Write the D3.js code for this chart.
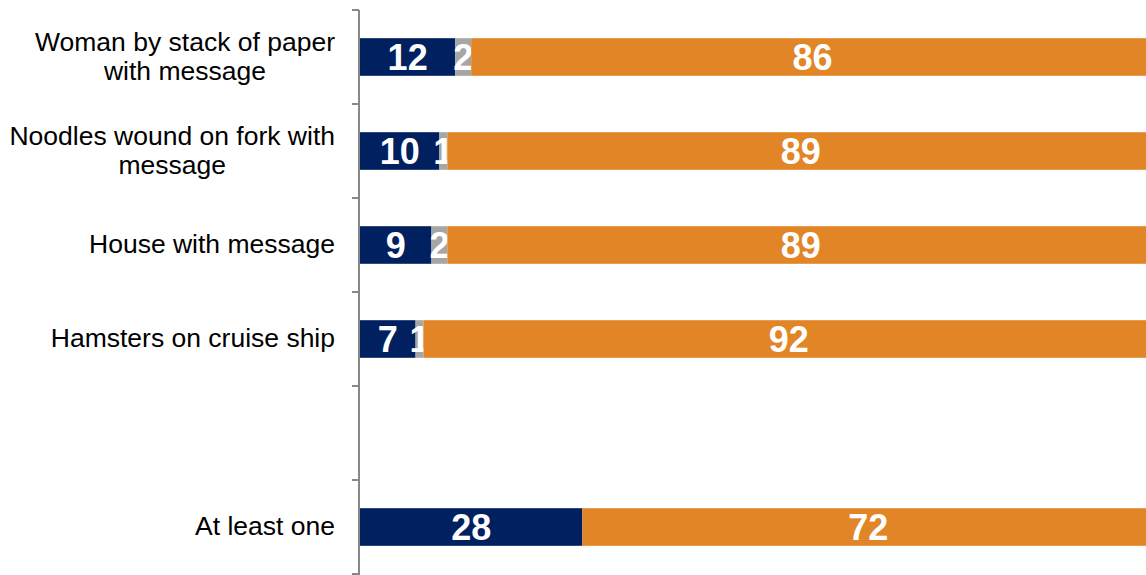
<!DOCTYPE html>
<html>
<head>
<meta charset="utf-8">
<script src="https://cdn.jsdelivr.net/npm/d3@7"></script>
<style>
  html, body { margin: 0; padding: 0; background: #ffffff; }
  svg { display: block; }
</style>
</head>
<body>
<svg id="chart" width="1146" height="575"></svg>
<script>
// Rows of the chart (an empty row separates the summary bar)
const categories = [
  "Woman by stack of paper\nwith message",
  "Noodles wound on fork with\nmessage",
  "House with message",
  "Hamsters on cruise ship",
  " ",
  "At least one"
];
// Percent shares per row (null = blank spacer row)
const navyValues   = [12, 10, 9, 7, null, 28];
const grayValues   = [2, 1, 2, 1, null, 0];
const orangeValues = [86, 89, 89, 92, null, 72];

const seriesKeys = ["navy", "gray", "orange"];
const colors = { navy: "#002060", gray: "#A6A6A6", orange: "#E18526" };

const rows = categories.map((c, i) => ({
  cat: c,
  navy: navyValues[i],
  gray: grayValues[i],
  orange: orangeValues[i]
}));

const svg = d3.select("#chart");

// The plot runs slightly past the right edge of the canvas
const x = d3.scaleLinear().domain([0, 100]).range([360, 1154]);
const y = d3.scaleBand()
  .domain(categories)
  .range([10, 574])
  .paddingInner(0.6)
  .paddingOuter(0.3);

const stack = d3.stack().keys(seriesKeys).value((d, k) => d[k] || 0);
const stacked = stack(rows.filter(r => r.navy !== null));

const layers = svg.append("g")
  .selectAll("g")
  .data(stacked)
  .join("g")
  .attr("fill", d => colors[d.key]);

layers.selectAll("rect")
  .data(d => d.map(p => ({ p, key: d.key })))
  .join("rect")
  .attr("x", d => x(d.p[0]))
  .attr("width", d => x(d.p[1]) - x(d.p[0]))
  .attr("y", d => y(d.p.data.cat))
  .attr("height", y.bandwidth());

// Value labels centred in each segment
layers.selectAll("text")
  .data(d => d.map(p => ({ p, key: d.key })).filter(d => d.p.data[d.key] > 0))
  .join("text")
  .attr("x", d => (x(d.p[0]) + x(d.p[1])) / 2)
  .attr("y", d => y(d.p.data.cat) + y.bandwidth() / 2)
  .attr("dy", "0.36em")
  .attr("text-anchor", "middle")
  .attr("fill", "#ffffff")
  .attr("font-family", "Liberation Sans, Arial, sans-serif")
  .attr("font-weight", "bold")
  .attr("font-size", 36)
  .text(d => d.p.data[d.key]);

// Vertical category axis with ticks between rows
const axisG = svg.append("g");
const [r0] = y.range();
axisG.append("line")
  .attr("x1", 359).attr("x2", 359)
  .attr("y1", r0).attr("y2", 575)
  .attr("stroke", "#888888").attr("stroke-width", 2);
axisG.selectAll("line.tick")
  .data(d3.range(categories.length + 1).map(i => r0 + i * y.step()))
  .join("line")
  .attr("class", "tick")
  .attr("x1", 352).attr("x2", 359)
  .attr("y1", d => d).attr("y2", d => d)
  .attr("stroke", "#888888").attr("stroke-width", 2);

// Category labels: block right-aligned to the axis, lines centred within the block
const lineH = 29;
const labelRight = 335;
svg.append("g")
  .selectAll("text")
  .data(categories)
  .join("text")
  .attr("text-anchor", "middle")
  .attr("font-family", "Liberation Sans, Arial, sans-serif")
  .attr("font-size", 26.5)
  .attr("fill", "#000000")
  .each(function(c) {
    const el = d3.select(this);
    const lines = c.split("\n");
    const cy = y(c) + y.bandwidth() / 2;
    const top = cy - (lines.length - 1) * lineH / 2;
    const spans = el.selectAll("tspan")
      .data(lines)
      .join("tspan")
      .attr("y", (l, i) => top + i * lineH)
      .attr("dy", "0.31em")
      .text(l => l);
    const widths = spans.nodes().map(n => n.getComputedTextLength());
    const blockW = d3.max(widths) || 0;
    spans.attr("x", labelRight - blockW / 2);
  });
</script>
</body>
</html>
